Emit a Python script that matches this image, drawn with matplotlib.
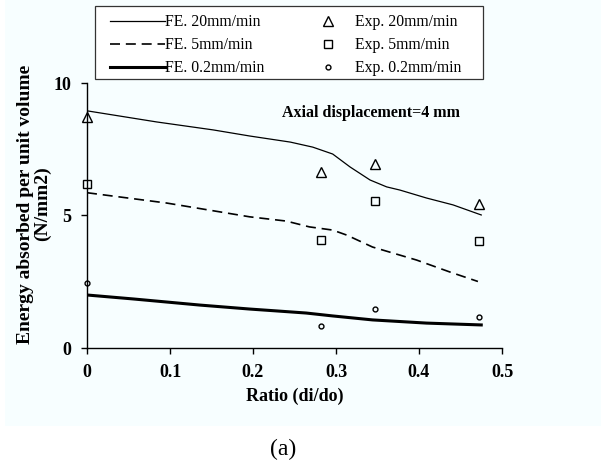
"""Energy absorbed per unit volume vs ratio (di/do), FE vs experiment."""

import matplotlib

matplotlib.use("Agg")
import matplotlib.pyplot as plt
from matplotlib.lines import Line2D
from matplotlib.patches import Rectangle

plt.rcParams["font.family"] = ["Liberation Serif", "DejaVu Serif"]

# FE curves
fe20_x = [0.0, 0.084, 0.152, 0.196, 0.245, 0.272, 0.296, 0.317, 0.341, 0.361, 0.377, 0.409, 0.441, 0.475]
fe20_y = [8.95, 8.53, 8.23, 8.00, 7.77, 7.58, 7.32, 6.83, 6.34, 6.08, 5.96, 5.66, 5.40, 5.02]

fe5_x = [0.0, 0.096, 0.196, 0.240, 0.268, 0.296, 0.313, 0.344, 0.397, 0.437, 0.471]
fe5_y = [5.86, 5.47, 4.95, 4.79, 4.57, 4.45, 4.26, 3.81, 3.32, 2.87, 2.51]

fe02_x = [0.0, 0.056, 0.136, 0.196, 0.228, 0.264, 0.296, 0.344, 0.409, 0.475]
fe02_y = [2.00, 1.85, 1.62, 1.47, 1.40, 1.32, 1.21, 1.06, 0.94, 0.87]

# experimental points
exp_x = [0.0, 0.282, 0.347, 0.472]
exp20_y = [8.73, 6.64, 6.94, 5.45]
exp5_y = [6.18, 4.08, 5.56, 4.02]
exp02_y = [2.45, 0.84, 1.47, 1.18]

x_ticks = [0, 0.1, 0.2, 0.3, 0.4, 0.5]
x_tick_labels = ["0", "0.1", "0.2", "0.3", "0.4", "0.5"]
y_ticks = [0, 5, 10]

W, H = 607, 469
DASH = (0, (6, 3.5))

fig = plt.figure(figsize=(W / 100, H / 100), dpi=100)
fig.patches.append(
    Rectangle((5 / W, 1 - 426 / H), 596 / W, 426 / H,
              transform=fig.transFigure, facecolor="#f7feff", edgecolor="none", zorder=-1)
)

ax = fig.add_axes([87 / W, 1 - 348 / H, (502 - 87) / W, (348 - 83) / H])
ax.patch.set_alpha(0)

ax.plot(fe20_x, fe20_y, color="black", linewidth=0.9)
ax.plot(fe5_x, fe5_y, color="black", linewidth=1.2, linestyle=DASH)
ax.plot(fe02_x, fe02_y, color="black", linewidth=2.2)

ax.plot(exp_x, exp20_y, linestyle="none", marker="^", markersize=6.5,
        markerfacecolor="none", markeredgecolor="black", markeredgewidth=1.0, clip_on=False)
ax.plot(exp_x, exp5_y, linestyle="none", marker="s", markersize=5.5,
        markerfacecolor="none", markeredgecolor="black", markeredgewidth=1.0, clip_on=False)
ax.plot(exp_x, exp02_y, linestyle="none", marker="o", markersize=3.5,
        markerfacecolor="none", markeredgecolor="black", markeredgewidth=1.0, clip_on=False)

ax.set_xlim(0, 0.5)
ax.set_ylim(0, 10)
ax.set_xticks(x_ticks)
ax.set_xticklabels(x_tick_labels)
ax.set_yticks(y_ticks)
for side in ("top", "right"):
    ax.spines[side].set_visible(False)
for side in ("left", "bottom"):
    ax.spines[side].set_linewidth(1.0)
ax.tick_params(direction="out", length=4.5, width=1.0, labelsize=13, pad=7)
for label in ax.get_xticklabels() + ax.get_yticklabels():
    label.set_fontweight("bold")

ax.set_xlabel("Ratio (di/do)", fontsize=13, fontweight="bold", labelpad=5)
fig.text(34 / W, 1 - 204 / H, "Energy absorbed per unit volume\n(N/mm2)",
         rotation=90, fontsize=14, fontweight="bold", ha="center", va="center",
         multialignment="center", linespacing=1.05)

ax.text(0.342, 8.87, "Axial displacement=4 mm", fontsize=11.5, fontweight="bold",
        ha="center", va="center")

# legend: frame drawn separately so the box can be placed like the original
fig.patches.append(
    Rectangle((95 / W, 1 - 79 / H), (483 - 95) / W, (79 - 6) / H,
              transform=fig.transFigure, facecolor="white", edgecolor="#333333",
              linewidth=0.9, zorder=3)
)
handles = [
    Line2D([], [], color="black", linewidth=0.9),
    Line2D([], [], color="black", linewidth=1.2, linestyle=DASH),
    Line2D([], [], color="black", linewidth=2.2),
    Line2D([], [], linestyle="none", marker="^", markersize=6.5, markerfacecolor="none",
           markeredgecolor="black"),
    Line2D([], [], linestyle="none", marker="s", markersize=5.5, markerfacecolor="none",
           markeredgecolor="black"),
    Line2D([], [], linestyle="none", marker="o", markersize=3.5, markerfacecolor="none",
           markeredgecolor="black"),
]
labels = ["FE. 20mm/min", "FE. 5mm/min", "FE. 0.2mm/min",
          "Exp. 20mm/min", "Exp. 5mm/min", "Exp. 0.2mm/min"]
leg = fig.legend(handles, labels, ncol=2, loc="upper left",
                 bbox_to_anchor=(110 / W, 1 - 14 / H), fontsize=11.3,
                 frameon=False, handlelength=3.5, handletextpad=0.0,
                 columnspacing=2.3, labelspacing=0.45, borderpad=0, borderaxespad=0)
leg.set_zorder(4)

fig.text(283 / W, 1 - 449 / H, "(a)", fontsize=17, ha="center", va="center")

fig.savefig("out.png", dpi=100)
